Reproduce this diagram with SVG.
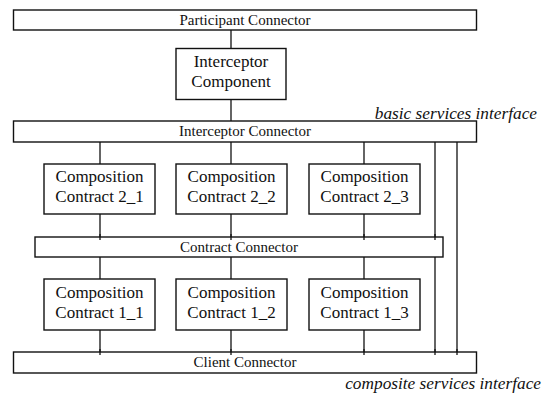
<svg xmlns="http://www.w3.org/2000/svg" width="542" height="394" viewBox="0 0 542 394">
<style>
.box{fill:#fff;stroke:#111;stroke-width:1.4}
.ln{stroke:#111;stroke-width:1.3;fill:none}
text{font-family:"Liberation Serif","Times New Roman",serif;fill:#111}
.t{text-anchor:middle}
.cn{font-size:15px}
.cp{font-size:17px}
.it{font-style:italic;font-size:17.3px;text-anchor:end}
</style>
<rect width="542" height="394" fill="#fff"/>
<g id="connectors">
<line class="ln" x1="231" y1="30" x2="231" y2="48.5"/>
<line class="ln" x1="231" y1="99.5" x2="231" y2="121"/>
<line class="ln" x1="100" y1="142" x2="100" y2="164"/>
<line class="ln" x1="231" y1="142" x2="231" y2="164"/>
<line class="ln" x1="364" y1="142" x2="364" y2="164"/>
<line class="ln" x1="100" y1="214" x2="100" y2="237"/>
<line class="ln" x1="231" y1="214" x2="231" y2="237"/>
<line class="ln" x1="364" y1="214" x2="364" y2="237"/>
<line class="ln" x1="100" y1="257" x2="100" y2="279"/>
<line class="ln" x1="231" y1="257" x2="231" y2="279"/>
<line class="ln" x1="364" y1="257" x2="364" y2="279"/>
<line class="ln" x1="100" y1="330" x2="100" y2="352"/>
<line class="ln" x1="231" y1="330" x2="231" y2="352"/>
<line class="ln" x1="364" y1="330" x2="364" y2="352"/>
<line class="ln" x1="435" y1="142" x2="435" y2="237"/>
<line class="ln" x1="435" y1="257" x2="435" y2="352"/>
<line class="ln" x1="457" y1="142" x2="457" y2="352"/>
</g>
<g id="participant-connector">
<rect class="box" x="13.5" y="10" width="463" height="20"/>
<text class="t cn" x="245" y="25">Participant Connector</text>
</g>
<g id="interceptor-component">
<rect class="box" x="176" y="48.5" width="110" height="51"/>
<text class="t cp" x="231" y="67">Interceptor</text>
<text class="t cp" x="231" y="87">Component</text>
</g>
<g id="interceptor-connector">
<rect class="box" x="13.5" y="121" width="463" height="21"/>
<text class="t cn" x="245" y="136">Interceptor Connector</text>
</g>
<g id="cc2_1">
<rect class="box" x="44" y="164" width="111" height="50"/>
<text class="t cp" x="99.5" y="182">Composition</text>
<text class="t cp" x="99.5" y="202">Contract 2_1</text>
</g>
<g id="cc2_2">
<rect class="box" x="176" y="164" width="111" height="50"/>
<text class="t cp" x="231.5" y="182">Composition</text>
<text class="t cp" x="231.5" y="202">Contract 2_2</text>
</g>
<g id="cc2_3">
<rect class="box" x="309" y="164" width="111" height="50"/>
<text class="t cp" x="364.5" y="182">Composition</text>
<text class="t cp" x="364.5" y="202">Contract 2_3</text>
</g>
<g id="contract-connector">
<rect class="box" x="35" y="237" width="408" height="20"/>
<text class="t cn" x="239" y="252">Contract Connector</text>
</g>
<g id="cc1_1">
<rect class="box" x="44" y="279" width="111" height="51"/>
<text class="t cp" x="99.5" y="297.5">Composition</text>
<text class="t cp" x="99.5" y="318">Contract 1_1</text>
</g>
<g id="cc1_2">
<rect class="box" x="176" y="279" width="111" height="51"/>
<text class="t cp" x="231.5" y="297.5">Composition</text>
<text class="t cp" x="231.5" y="318">Contract 1_2</text>
</g>
<g id="cc1_3">
<rect class="box" x="309" y="279" width="111" height="51"/>
<text class="t cp" x="364.5" y="297.5">Composition</text>
<text class="t cp" x="364.5" y="318">Contract 1_3</text>
</g>
<g id="client-connector">
<rect class="box" x="13.5" y="352" width="463" height="21"/>
<text class="t cn" x="245" y="367">Client Connector</text>
</g>
<g id="connector-overlaps">
<line class="ln" x1="100" y1="234" x2="100" y2="240"/>
<line class="ln" x1="231" y1="234" x2="231" y2="240"/>
<line class="ln" x1="364" y1="234" x2="364" y2="240"/>
<line class="ln" x1="435" y1="234" x2="435" y2="240"/>
<line class="ln" x1="100" y1="349" x2="100" y2="355"/>
<line class="ln" x1="231" y1="349" x2="231" y2="355"/>
<line class="ln" x1="364" y1="349" x2="364" y2="355"/>
<line class="ln" x1="435" y1="349" x2="435" y2="355"/>
<line class="ln" x1="457" y1="349" x2="457" y2="355"/>
</g>
<text class="it" x="537" y="119">basic services interface</text>
<text class="it" x="541" y="389">composite services interface</text>
</svg>
